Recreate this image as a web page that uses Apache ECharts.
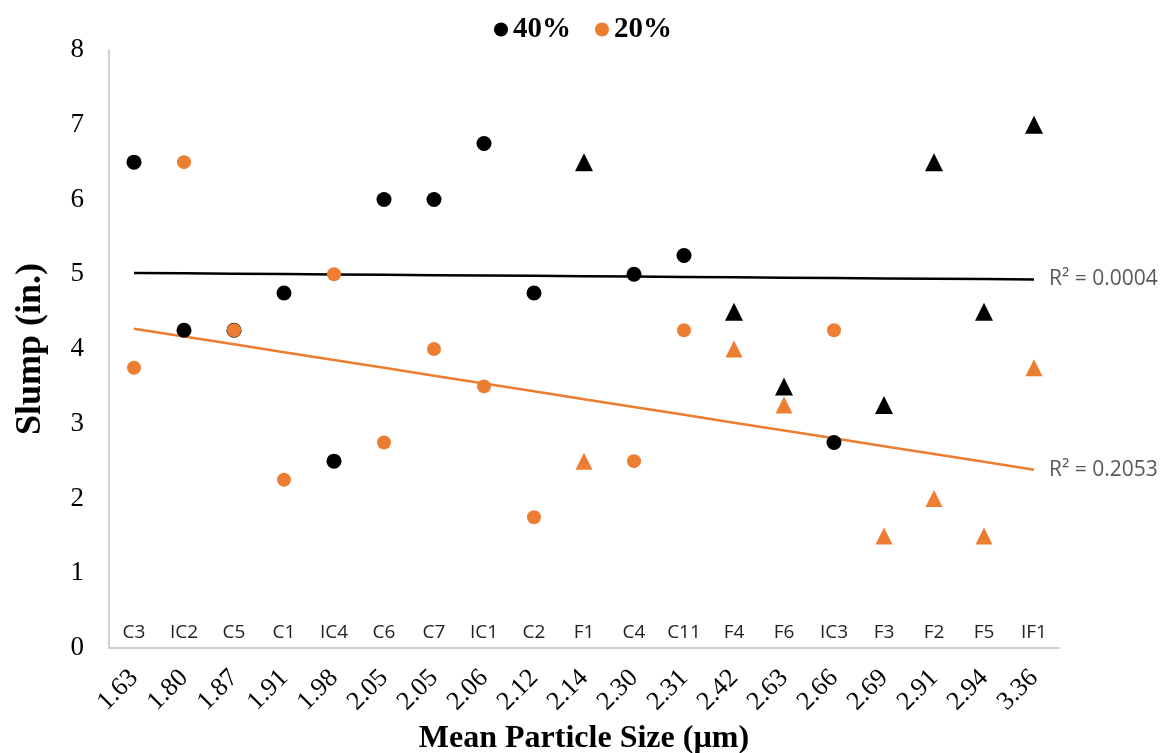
<!DOCTYPE html>
<html>
<head>
<meta charset="utf-8">
<script src="https://cdn.jsdelivr.net/npm/echarts@6/dist/echarts.min.js"></script>
<style>
  html, body { margin: 0; padding: 0; background: #fff; }
  #chart { width: 1166px; height: 753px; }
</style>
</head>
<body>
<div id="chart"></div>
<script>
// mean particle size (x axis) and sample name shown inside the plot
const sizes = ['1.63', '1.80', '1.87', '1.91', '1.98', '2.05', '2.05', '2.06', '2.12', '2.14',
  '2.30', '2.31', '2.42', '2.63', '2.66', '2.69', '2.91', '2.94', '3.36']
const samples = ['C3', 'IC2', 'C5', 'C1', 'IC4', 'C6', 'C7', 'IC1', 'C2', 'F1',
  'C4', 'C11', 'F4', 'F6', 'IC3', 'F3', 'F2', 'F5', 'IF1']

// slump values (in.)
const slump40 = [6.5, 4.25, 4.25, 4.75, 2.5, 6, 6, 6.75, 4.75, 6.5,
  5, 5.25, 4.5, 3.5, 2.75, 3.25, 6.5, 4.5, 7]
const slump20 = [3.75, 6.5, 4.25, 2.25, 5, 2.75, 4, 3.5, 1.75, 2.5,
  2.5, 4.25, 4, 3.25, 4.25, 1.5, 2, 1.5, 3.75]

const r2Labels = ['R² = 0.0004', 'R² = 0.2053']

// linear trend over category index (like Excel)
function trend(vals) {
  let n = vals.length, sx = 0, sy = 0, sxy = 0, sxx = 0
  vals.forEach((v, i) => { sx += i; sy += v; sxy += i * v; sxx += i * i })
  let b = (n * sxy - sx * sy) / (n * sxx - sx * sx)
  let a = (sy - b * sx) / n
  return vals.map((v, i) => a + b * i)
}

// F samples are drawn as triangles
function pts(vals, circleSize, triSize) {
  return vals.map((v, i) => {
    let tri = samples[i].indexOf('F') >= 0
    return { value: v, symbol: tri ? 'triangle' : 'circle', symbolSize: tri ? triSize : circleSize }
  })
}

const serif = '"Liberation Serif", "Times New Roman", serif'
const sans = '"Open Sans", "Noto Sans", sans-serif'

let chart = echarts.init(document.getElementById('chart'))

let options = {
  animation: false,
  legend: {
    top: 10,
    left: 'center',
    data: ['40%', '20%'],
    icon: 'circle',
    itemWidth: 14,
    itemHeight: 14,
    itemGap: 24,
    textStyle: { fontFamily: serif, fontWeight: 'bold', fontSize: 29, color: '#000' }
  },
  grid: { left: 109, right: 107, top: 50, bottom: 105, outerBoundsMode: 'none' },
  xAxis: [
    {
      type: 'category',
      data: sizes,
      name: 'Mean Particle Size (µm)',
      nameLocation: 'middle',
      nameGap: 74,
      nameTextStyle: { fontFamily: serif, fontWeight: 'bold', fontSize: 32, color: '#000' },
      axisLine: { lineStyle: { color: '#bfbfbf', width: 1.5 } },
      axisTick: { length: 8, lineStyle: { color: '#bfbfbf', width: 1.5 } },
      axisLabel: { rotate: 45, margin: 26, fontFamily: serif, fontSize: 26, color: '#000' }
    },
    {
      type: 'category',
      data: samples,
      position: 'bottom',
      axisLine: { show: false },
      axisTick: { show: false },
      axisLabel: { inside: true, margin: 6, fontFamily: sans, fontSize: 19, color: '#222' }
    }
  ],
  yAxis: {
    type: 'value',
    min: 0,
    max: 8,
    interval: 1,
    name: 'Slump (in.)',
    nameLocation: 'middle',
    nameGap: 60,
    nameTextStyle: { fontFamily: serif, fontWeight: 'bold', fontSize: 36, color: '#000' },
    axisLine: { show: true, lineStyle: { color: '#bfbfbf', width: 1.5 } },
    axisTick: { show: false },
    splitLine: { show: false },
    axisLabel: { margin: 25, fontFamily: serif, fontSize: 27, color: '#000' }
  },
  series: [
    {
      name: '40%',
      type: 'scatter',
      data: pts(slump40, 15, 18),
      itemStyle: { color: '#000', opacity: 1 },
      z: 3
    },
    {
      name: '20%',
      type: 'scatter',
      data: pts(slump20, 14, 17),
      itemStyle: { color: '#ED7D31', opacity: 1 },
      z: 4
    },
    {
      name: 'trend40',
      type: 'line',
      data: trend(slump40),
      showSymbol: false,
      symbol: 'none',
      lineStyle: { color: '#000', width: 2.5 },
      endLabel: { show: true, formatter: r2Labels[0], distance: 15, fontFamily: sans, fontSize: 21, color: '#595959' },
      z: 2
    },
    {
      name: 'trend20',
      type: 'line',
      data: trend(slump20),
      showSymbol: false,
      symbol: 'none',
      lineStyle: { color: '#ED7D31', width: 2.5 },
      endLabel: { show: true, formatter: r2Labels[1], distance: 15, fontFamily: sans, fontSize: 21, color: '#595959' },
      z: 2
    }
  ]
}

chart.setOption(options)
</script>
</body>
</html>
